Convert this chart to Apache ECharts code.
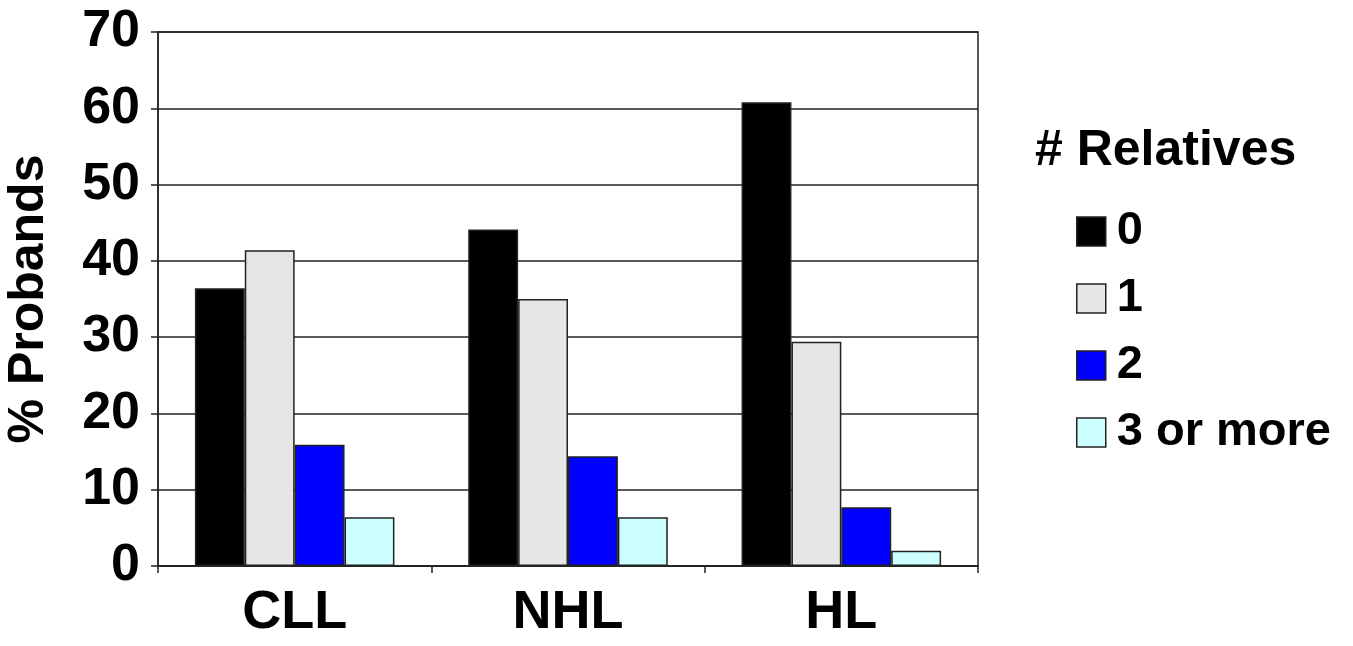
<!DOCTYPE html>
<html>
<head>
<meta charset="utf-8">
<script src="https://cdn.jsdelivr.net/npm/echarts@6/dist/echarts.min.js"></script>
<style>
    html, body {margin: 0; padding: 0; background: #fff;}
    #chart {width: 1353px; height: 646px;}
</style>
</head>
<body>
<div id="chart"></div>
<script>
// 疾病类别
const categories = ['CLL', 'NHL', 'HL'];
// 亲属人数分组
const groupNames = ['0', '1', '2', '3 or more'];
// 各组先证者百分比
const zeroRel = [36.4, 44.1, 60.8];
const oneRel = [41.4, 35.0, 29.4];
const twoRel = [15.9, 14.4, 7.7];
const threePlusRel = [6.4, 6.4, 2.0];

const fontFamily = '"Liberation Sans", Arial, sans-serif';
const barColors = ['#000000', '#e6e6e6', '#0000ff', '#ccffff'];
const seriesValues = [zeroRel, oneRel, twoRel, threePlusRel];

const chart = echarts.init(document.getElementById('chart'));

const option = {
    animation: false,
    backgroundColor: '#ffffff',
    textStyle: {fontFamily},
    title: {
        text: '# Relatives',
        left: 1030,
        top: 121,
        textStyle: {
            fontFamily,
            fontSize: 50,
            fontWeight: 'bold',
            color: '#000'
        }
    },
    legend: {
        orient: 'vertical',
        left: 1071,
        top: 203,
        icon: 'rect',
        itemWidth: 29,
        itemHeight: 29,
        itemGap: 20,
        data: groupNames,
        itemStyle: {borderColor: '#222', borderWidth: 1.5},
        textStyle: {
            fontFamily,
            fontSize: 47,
            fontWeight: 'bold',
            color: '#000',
            padding: [0, 0, 0, 6]
        }
    },
    grid: {
        left: 158,
        right: 375,
        top: 32,
        bottom: 80,
        outerBoundsMode: 'none',
        show: true,
        borderColor: '#222',
        borderWidth: 1.5
    },
    xAxis: {
        type: 'category',
        data: categories,
        axisLine: {lineStyle: {color: '#222', width: 1.5}},
        axisTick: {show: true, length: 7, lineStyle: {color: '#222', width: 1.5}},
        axisLabel: {
            fontFamily,
            fontSize: 54,
            fontWeight: 'bold',
            color: '#000',
            margin: 20
        }
    },
    yAxis: {
        type: 'value',
        min: 0,
        max: 70,
        interval: 10,
        name: '% Probands',
        nameLocation: 'middle',
        nameRotate: 90,
        nameGap: 104,
        nameTextStyle: {
            fontFamily,
            fontSize: 50,
            fontWeight: 'bold',
            color: '#000'
        },
        axisLine: {show: true, lineStyle: {color: '#222', width: 1.5}},
        axisTick: {show: true, length: 7, lineStyle: {color: '#222', width: 1.5}},
        axisLabel: {
            fontFamily,
            fontSize: 52,
            fontWeight: 'bold',
            color: '#000',
            margin: 18
        },
        splitLine: {lineStyle: {color: '#222', width: 1.5}}
    },
    series: groupNames.map((name, i) => ({
        name,
        type: 'bar',
        data: seriesValues[i],
        barGap: '0%',
        barCategoryGap: '27%',
        itemStyle: {
            color: barColors[i],
            borderColor: '#222',
            borderWidth: 1.5
        }
    }))
};

chart.setOption(option);
</script>
</body>
</html>
